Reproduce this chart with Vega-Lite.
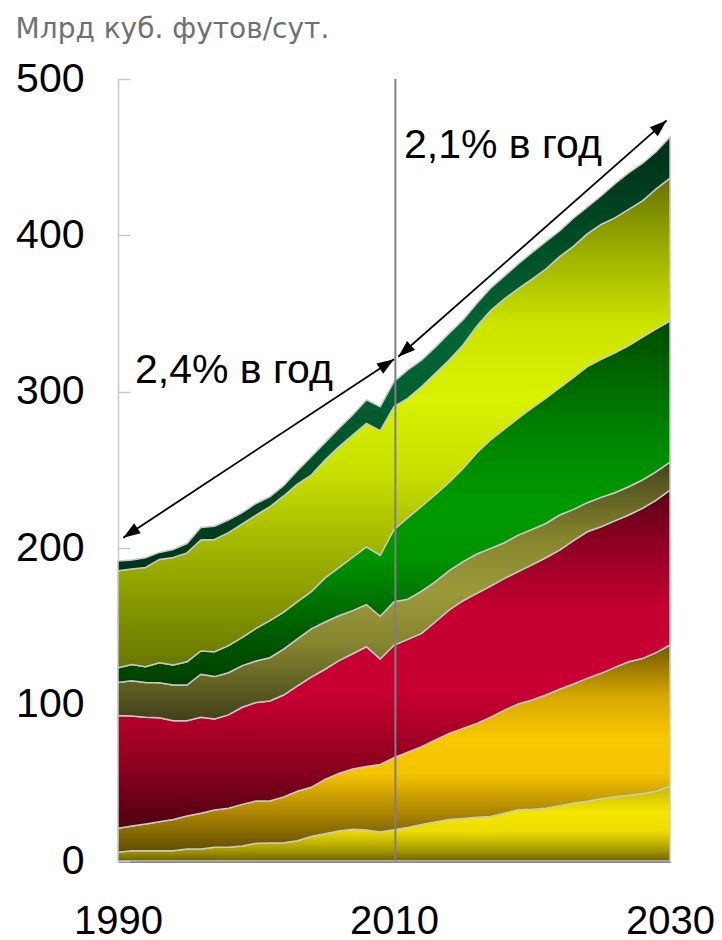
{
  "$schema": "https://vega.github.io/schema/vega-lite/v6.json",
  "width": 552,
  "height": 782,
  "autosize": {"type": "none"},
  "padding": {"left": 118, "top": 79, "right": 52, "bottom": 79},
  "background": "white",
  "config": {
    "view": {"stroke": null},
    "font": "Liberation Sans",
    "axisY": {"domainColor": "#c8c8c8", "domainWidth": 1.5, "tickColor": "#c8c8c8", "tickWidth": 1.5, "tickSize": -12, "labelPadding": 46, "labelFontSize": 41, "labelColor": "#000000", "labelFont": "Liberation Sans", "grid": false, "zindex": 1},
    "axisX": {"domainColor": "#111111", "domainWidth": 2, "ticks": false, "labelPadding": 40, "labelFontSize": 40, "labelColor": "#000000", "labelFont": "Liberation Sans", "grid": false, "labelFlush": false, "zindex": 1}
  },
  "title": {"text": "Млрд куб. футов/сут.", "anchor": "start", "frame": "bounds", "fontSize": 28, "font": "DejaVu Sans", "fontWeight": "normal", "color": "#707070", "baseline": "alphabetic", "offset": 22, "dy": 30},
  "datasets": {
    "gas": [
      {"year":1990,"series":"s1","value":5.6},{"year":1990,"series":"s2","value":15.3},{"year":1990,"series":"s3","value":72.1},{"year":1990,"series":"s4","value":21.2},{"year":1990,"series":"s5","value":9.4},{"year":1990,"series":"s6","value":62},{"year":1990,"series":"s7","value":6.2},
      {"year":1991,"series":"s1","value":6.6},{"year":1991,"series":"s2","value":15.8},{"year":1991,"series":"s3","value":70.3},{"year":1991,"series":"s4","value":22.6},{"year":1991,"series":"s5","value":10.4},{"year":1991,"series":"s6","value":61},{"year":1991,"series":"s7","value":5.8},
      {"year":1992,"series":"s1","value":6.6},{"year":1992,"series":"s2","value":17.1},{"year":1992,"series":"s3","value":68.2},{"year":1992,"series":"s4","value":22.3},{"year":1992,"series":"s5","value":10},{"year":1992,"series":"s6","value":63.5},{"year":1992,"series":"s7","value":6.2},
      {"year":1993,"series":"s1","value":6.6},{"year":1993,"series":"s2","value":18.5},{"year":1993,"series":"s3","value":66.5},{"year":1993,"series":"s4","value":22.4},{"year":1993,"series":"s5","value":12.8},{"year":1993,"series":"s6","value":66},{"year":1993,"series":"s7","value":4.5},
      {"year":1994,"series":"s1","value":6.6},{"year":1994,"series":"s2","value":20},{"year":1994,"series":"s3","value":63.1},{"year":1994,"series":"s4","value":22.8},{"year":1994,"series":"s5","value":12.8},{"year":1994,"series":"s6","value":68.7},{"year":1994,"series":"s7","value":5.2},
      {"year":1995,"series":"s1","value":7.7},{"year":1995,"series":"s2","value":21.1},{"year":1995,"series":"s3","value":60.9},{"year":1995,"series":"s4","value":22.8},{"year":1995,"series":"s5","value":14.9},{"year":1995,"series":"s6","value":69.6},{"year":1995,"series":"s7","value":6},
      {"year":1996,"series":"s1","value":7.7},{"year":1996,"series":"s2","value":22.8},{"year":1996,"series":"s3","value":61.4},{"year":1996,"series":"s4","value":27.5},{"year":1996,"series":"s5","value":14.9},{"year":1996,"series":"s6","value":70.9},{"year":1996,"series":"s7","value":8},
      {"year":1997,"series":"s1","value":8.8},{"year":1997,"series":"s2","value":23.8},{"year":1997,"series":"s3","value":58.2},{"year":1997,"series":"s4","value":27.1},{"year":1997,"series":"s5","value":15.9},{"year":1997,"series":"s6","value":71.8},{"year":1997,"series":"s7","value":8.4},
      {"year":1998,"series":"s1","value":8.8},{"year":1998,"series":"s2","value":24.9},{"year":1998,"series":"s3","value":59.7},{"year":1998,"series":"s4","value":27},{"year":1998,"series":"s5","value":17.3},{"year":1998,"series":"s6","value":72.2},{"year":1998,"series":"s7","value":8.1},
      {"year":1999,"series":"s1","value":9.6},{"year":1999,"series":"s2","value":26.6},{"year":1999,"series":"s3","value":62.1},{"year":1999,"series":"s4","value":26.6},{"year":1999,"series":"s5","value":18.1},{"year":1999,"series":"s6","value":72.5},{"year":1999,"series":"s7","value":7.2},
      {"year":2000,"series":"s1","value":11.3},{"year":2000,"series":"s2","value":27.1},{"year":2000,"series":"s3","value":62.9},{"year":2000,"series":"s4","value":26.6},{"year":2000,"series":"s5","value":20.9},{"year":2000,"series":"s6","value":72.4},{"year":2000,"series":"s7","value":7.4},
      {"year":2001,"series":"s1","value":11.5},{"year":2001,"series":"s2","value":26.9},{"year":2001,"series":"s3","value":63.9},{"year":2001,"series":"s4","value":27.7},{"year":2001,"series":"s5","value":23.7},{"year":2001,"series":"s6","value":72.8},{"year":2001,"series":"s7","value":6.4},
      {"year":2002,"series":"s1","value":11.7},{"year":2002,"series":"s2","value":29.3},{"year":2002,"series":"s3","value":65.1},{"year":2002,"series":"s4","value":29.4},{"year":2002,"series":"s5","value":23.6},{"year":2002,"series":"s6","value":74.3},{"year":2002,"series":"s7","value":6.6},
      {"year":2003,"series":"s1","value":13},{"year":2003,"series":"s2","value":31.6},{"year":2003,"series":"s3","value":67.4},{"year":2003,"series":"s4","value":30},{"year":2003,"series":"s5","value":23.8},{"year":2003,"series":"s6","value":75.2},{"year":2003,"series":"s7","value":8.5},
      {"year":2004,"series":"s1","value":15.7},{"year":2004,"series":"s2","value":31.4},{"year":2004,"series":"s3","value":70.5},{"year":2004,"series":"s4","value":30.8},{"year":2004,"series":"s5","value":23.8},{"year":2004,"series":"s6","value":74.6},{"year":2004,"series":"s7","value":11.7},
      {"year":2005,"series":"s1","value":17.4},{"year":2005,"series":"s2","value":34.8},{"year":2005,"series":"s3","value":70.4},{"year":2005,"series":"s4","value":30.2},{"year":2005,"series":"s5","value":28.2},{"year":2005,"series":"s6","value":75.4},{"year":2005,"series":"s7","value":11.1},
      {"year":2006,"series":"s1","value":19.2},{"year":2006,"series":"s2","value":36.7},{"year":2006,"series":"s3","value":72.2},{"year":2006,"series":"s4","value":28.7},{"year":2006,"series":"s5","value":30.8},{"year":2006,"series":"s6","value":77.2},{"year":2006,"series":"s7","value":11.8},
      {"year":2007,"series":"s1","value":20.3},{"year":2007,"series":"s2","value":38.5},{"year":2007,"series":"s3","value":73.7},{"year":2007,"series":"s4","value":27.6},{"year":2007,"series":"s5","value":34.1},{"year":2007,"series":"s6","value":78.2},{"year":2007,"series":"s7","value":12.8},
      {"year":2008,"series":"s1","value":19.8},{"year":2008,"series":"s2","value":40.6},{"year":2008,"series":"s3","value":76.6},{"year":2008,"series":"s4","value":27},{"year":2008,"series":"s5","value":36.8},{"year":2008,"series":"s6","value":79},{"year":2008,"series":"s7","value":15},
      {"year":2009,"series":"s1","value":18.5},{"year":2009,"series":"s2","value":43.2},{"year":2009,"series":"s3","value":67.5},{"year":2009,"series":"s4","value":27.3},{"year":2009,"series":"s5","value":39},{"year":2009,"series":"s6","value":79.7},{"year":2009,"series":"s7","value":15.3},
      {"year":2010,"series":"s1","value":20},{"year":2010,"series":"s2","value":46},{"year":2010,"series":"s3","value":72.1},{"year":2010,"series":"s4","value":27.7},{"year":2010,"series":"s5","value":46.2},{"year":2010,"series":"s6","value":78.5},{"year":2010,"series":"s7","value":16},
      {"year":2011,"series":"s1","value":21.4},{"year":2011,"series":"s2","value":48.1},{"year":2011,"series":"s3","value":72.2},{"year":2011,"series":"s4","value":25.7},{"year":2011,"series":"s5","value":52.1},{"year":2011,"series":"s6","value":76.3},{"year":2011,"series":"s7","value":18.2},
      {"year":2012,"series":"s1","value":23.3},{"year":2012,"series":"s2","value":49.8},{"year":2012,"series":"s3","value":72.4},{"year":2012,"series":"s4","value":27.1},{"year":2012,"series":"s5","value":54.2},{"year":2012,"series":"s6","value":76.5},{"year":2012,"series":"s7","value":17},
      {"year":2013,"series":"s1","value":25},{"year":2013,"series":"s2","value":52.4},{"year":2013,"series":"s3","value":75.6},{"year":2013,"series":"s4","value":25.6},{"year":2013,"series":"s5","value":55.7},{"year":2013,"series":"s6","value":77.5},{"year":2013,"series":"s7","value":16.7},
      {"year":2014,"series":"s1","value":26.5},{"year":2014,"series":"s2","value":55.1},{"year":2014,"series":"s3","value":78.9},{"year":2014,"series":"s4","value":25.1},{"year":2014,"series":"s5","value":56.6},{"year":2014,"series":"s6","value":78.1},{"year":2014,"series":"s7","value":17.1},
      {"year":2015,"series":"s1","value":27.2},{"year":2015,"series":"s2","value":57.6},{"year":2015,"series":"s3","value":81.6},{"year":2015,"series":"s4","value":25},{"year":2015,"series":"s5","value":59.6},{"year":2015,"series":"s6","value":78.9},{"year":2015,"series":"s7","value":16},
      {"year":2016,"series":"s1","value":28},{"year":2016,"series":"s2","value":60},{"year":2016,"series":"s3","value":83.1},{"year":2016,"series":"s4","value":25.2},{"year":2016,"series":"s5","value":64.7},{"year":2016,"series":"s6","value":81},{"year":2016,"series":"s7","value":14.5},
      {"year":2017,"series":"s1","value":28.5},{"year":2017,"series":"s2","value":63.4},{"year":2017,"series":"s3","value":83.9},{"year":2017,"series":"s4","value":24.1},{"year":2017,"series":"s5","value":69.4},{"year":2017,"series":"s6","value":82.7},{"year":2017,"series":"s7","value":14.2},
      {"year":2018,"series":"s1","value":30.6},{"year":2018,"series":"s2","value":65.9},{"year":2018,"series":"s3","value":84.2},{"year":2018,"series":"s4","value":22.8},{"year":2018,"series":"s5","value":72.7},{"year":2018,"series":"s6","value":83.3},{"year":2018,"series":"s7","value":14.5},
      {"year":2019,"series":"s1","value":32.8},{"year":2019,"series":"s2","value":67.6},{"year":2019,"series":"s3","value":84.6},{"year":2019,"series":"s4","value":23.4},{"year":2019,"series":"s5","value":74.7},{"year":2019,"series":"s6","value":82.9},{"year":2019,"series":"s7","value":15.7},
      {"year":2020,"series":"s1","value":33.1},{"year":2020,"series":"s2","value":69.8},{"year":2020,"series":"s3","value":86.4},{"year":2020,"series":"s4","value":22.7},{"year":2020,"series":"s5","value":77.7},{"year":2020,"series":"s6","value":82.3},{"year":2020,"series":"s7","value":17},
      {"year":2021,"series":"s1","value":33.8},{"year":2021,"series":"s2","value":72.3},{"year":2021,"series":"s3","value":87.8},{"year":2021,"series":"s4","value":21.9},{"year":2021,"series":"s5","value":80.2},{"year":2021,"series":"s6","value":82.5},{"year":2021,"series":"s7","value":17.5},
      {"year":2022,"series":"s1","value":35.4},{"year":2022,"series":"s2","value":74.4},{"year":2022,"series":"s3","value":89},{"year":2022,"series":"s4","value":22.4},{"year":2022,"series":"s5","value":81.4},{"year":2022,"series":"s6","value":83.8},{"year":2022,"series":"s7","value":16.4},
      {"year":2023,"series":"s1","value":37},{"year":2023,"series":"s2","value":76.2},{"year":2023,"series":"s3","value":91.6},{"year":2023,"series":"s4","value":20},{"year":2023,"series":"s5","value":84.4},{"year":2023,"series":"s6","value":83.8},{"year":2023,"series":"s7","value":18},
      {"year":2024,"series":"s1","value":38.2},{"year":2024,"series":"s2","value":78.6},{"year":2024,"series":"s3","value":93.7},{"year":2024,"series":"s4","value":18.6},{"year":2024,"series":"s5","value":87},{"year":2024,"series":"s6","value":84.9},{"year":2024,"series":"s7","value":17},
      {"year":2025,"series":"s1","value":39.8},{"year":2025,"series":"s2","value":80.2},{"year":2025,"series":"s3","value":93.7},{"year":2025,"series":"s4","value":18.8},{"year":2025,"series":"s5","value":88.3},{"year":2025,"series":"s6","value":86.2},{"year":2025,"series":"s7","value":18.2},
      {"year":2026,"series":"s1","value":41.1},{"year":2026,"series":"s2","value":82.7},{"year":2026,"series":"s3","value":93.7},{"year":2026,"series":"s4","value":18},{"year":2026,"series":"s5","value":89.4},{"year":2026,"series":"s6","value":86.3},{"year":2026,"series":"s7","value":21.7},
      {"year":2027,"series":"s1","value":42},{"year":2027,"series":"s2","value":85.4},{"year":2027,"series":"s3","value":93.8},{"year":2027,"series":"s4","value":18.1},{"year":2027,"series":"s5","value":90.3},{"year":2027,"series":"s6","value":87},{"year":2027,"series":"s7","value":23.4},
      {"year":2028,"series":"s1","value":43},{"year":2028,"series":"s2","value":86.5},{"year":2028,"series":"s3","value":96},{"year":2028,"series":"s4","value":18.1},{"year":2028,"series":"s5","value":91.4},{"year":2028,"series":"s6","value":87.1},{"year":2028,"series":"s7","value":23.9},
      {"year":2029,"series":"s1","value":44.6},{"year":2029,"series":"s2","value":88.6},{"year":2029,"series":"s3","value":97.6},{"year":2029,"series":"s4","value":18.2},{"year":2029,"series":"s5","value":91.2},{"year":2029,"series":"s6","value":89.6},{"year":2029,"series":"s7","value":23.7},
      {"year":2030,"series":"s1","value":47.8},{"year":2030,"series":"s2","value":90.3},{"year":2030,"series":"s3","value":99.1},{"year":2030,"series":"s4","value":17.8},{"year":2030,"series":"s5","value":90.3},{"year":2030,"series":"s6","value":91.3},{"year":2030,"series":"s7","value":26.4}
    ],
    "divider": [{"year": 2010.1}],
    "arrows": [
      {"id": "a", "xs": 1990.38, "ys": 206.7, "xe": 2010.0, "ye": 320.8},
      {"id": "b", "xs": 2010.31, "ys": 322.4, "xe": 2029.75, "ye": 473.5}
    ],
    "labels": [
      {"x": 1991.23, "y": 305.6, "text": "2,4% в год"},
      {"x": 2010.72, "y": 449.8, "text": "2,1% в год"}
    ]
  },
  "layer": [
    {
      "data": {"name": "gas"},
      "transform": [{"stack": "value", "groupby": ["year"], "sort": [{"field": "series", "order": "ascending"}], "as": ["y0", "y1"]}, {"filter": "datum.series === 's1'"}],
      "mark": {"type": "area", "opacity": 1, "stroke": "#c8c8c8", "strokeWidth": 1.5, "fill": {"gradient": "linear", "x1": 0, "y1": 0, "x2": 0, "y2": 1, "stops": [{"offset": 0, "color": "#c8b800"}, {"offset": 0.35, "color": "#f5e600"}, {"offset": 0.6, "color": "#eedd00"}, {"offset": 0.85, "color": "#a89c00"}, {"offset": 1, "color": "#6e6200"}]}},
      "encoding": {
        "x": {"field": "year", "type": "quantitative", "title": null, "scale": {"domain": [1990, 2030], "nice": false, "zero": false}, "axis": {"values": [1990, 2010, 2030], "format": "d"}},
        "y": {"field": "y1", "type": "quantitative", "title": null, "scale": {"domain": [0, 500], "nice": false}, "axis": {"values": [0, 100, 200, 300, 400, 500]}},
        "y2": {"field": "y0"}
      }
    },
    {
      "data": {"name": "gas"},
      "transform": [{"stack": "value", "groupby": ["year"], "sort": [{"field": "series", "order": "ascending"}], "as": ["y0", "y1"]}, {"filter": "datum.series === 's2'"}],
      "mark": {"type": "area", "opacity": 1, "stroke": "#c8c8c8", "strokeWidth": 1.5, "fill": {"gradient": "linear", "x1": 0, "y1": 0, "x2": 0, "y2": 1, "stops": [{"offset": 0, "color": "#705800"}, {"offset": 0.25, "color": "#d8a800"}, {"offset": 0.45, "color": "#f8c800"}, {"offset": 0.62, "color": "#f5c400"}, {"offset": 0.8, "color": "#b08800"}, {"offset": 1, "color": "#604c00"}]}},
      "encoding": {"x": {"field": "year", "type": "quantitative", "title": null}, "y": {"field": "y1", "type": "quantitative", "title": null}, "y2": {"field": "y0"}}
    },
    {
      "data": {"name": "gas"},
      "transform": [{"stack": "value", "groupby": ["year"], "sort": [{"field": "series", "order": "ascending"}], "as": ["y0", "y1"]}, {"filter": "datum.series === 's3'"}],
      "mark": {"type": "area", "opacity": 1, "stroke": "#c8c8c8", "strokeWidth": 1.5, "fill": {"gradient": "linear", "x1": 0, "y1": 0, "x2": 0, "y2": 1, "stops": [{"offset": 0, "color": "#5a0016"}, {"offset": 0.15, "color": "#8c0022"}, {"offset": 0.35, "color": "#c40030"}, {"offset": 0.6, "color": "#c80032"}, {"offset": 0.8, "color": "#90001f"}, {"offset": 1, "color": "#4e0012"}]}},
      "encoding": {"x": {"field": "year", "type": "quantitative", "title": null}, "y": {"field": "y1", "type": "quantitative", "title": null}, "y2": {"field": "y0"}}
    },
    {
      "data": {"name": "gas"},
      "transform": [{"stack": "value", "groupby": ["year"], "sort": [{"field": "series", "order": "ascending"}], "as": ["y0", "y1"]}, {"filter": "datum.series === 's4'"}],
      "mark": {"type": "area", "opacity": 1, "stroke": "#c8c8c8", "strokeWidth": 1.5, "fill": {"gradient": "linear", "x1": 0, "y1": 0, "x2": 0, "y2": 1, "stops": [{"offset": 0, "color": "#45451a"}, {"offset": 0.3, "color": "#86862e"}, {"offset": 0.5, "color": "#9c9a3a"}, {"offset": 0.7, "color": "#868530"}, {"offset": 1, "color": "#404018"}]}},
      "encoding": {"x": {"field": "year", "type": "quantitative", "title": null}, "y": {"field": "y1", "type": "quantitative", "title": null}, "y2": {"field": "y0"}}
    },
    {
      "data": {"name": "gas"},
      "transform": [{"stack": "value", "groupby": ["year"], "sort": [{"field": "series", "order": "ascending"}], "as": ["y0", "y1"]}, {"filter": "datum.series === 's5'"}],
      "mark": {"type": "area", "opacity": 1, "stroke": "#c8c8c8", "strokeWidth": 1.5, "fill": {"gradient": "linear", "x1": 0, "y1": 0, "x2": 0, "y2": 1, "stops": [{"offset": 0, "color": "#004a00"}, {"offset": 0.3, "color": "#008200"}, {"offset": 0.5, "color": "#009a00"}, {"offset": 0.65, "color": "#009400"}, {"offset": 0.85, "color": "#005c00"}, {"offset": 1, "color": "#003e00"}]}},
      "encoding": {"x": {"field": "year", "type": "quantitative", "title": null}, "y": {"field": "y1", "type": "quantitative", "title": null}, "y2": {"field": "y0"}}
    },
    {
      "data": {"name": "gas"},
      "transform": [{"stack": "value", "groupby": ["year"], "sort": [{"field": "series", "order": "ascending"}], "as": ["y0", "y1"]}, {"filter": "datum.series === 's6'"}],
      "mark": {"type": "area", "opacity": 1, "stroke": "#c8c8c8", "strokeWidth": 1.5, "fill": {"gradient": "linear", "x1": 0, "y1": 0, "x2": 0, "y2": 1, "stops": [{"offset": 0, "color": "#667400"}, {"offset": 0.15, "color": "#9cb000"}, {"offset": 0.3, "color": "#cce400"}, {"offset": 0.45, "color": "#d8f200"}, {"offset": 0.6, "color": "#c8e000"}, {"offset": 0.8, "color": "#96aa00"}, {"offset": 1, "color": "#687600"}]}},
      "encoding": {"x": {"field": "year", "type": "quantitative", "title": null}, "y": {"field": "y1", "type": "quantitative", "title": null}, "y2": {"field": "y0"}}
    },
    {
      "data": {"name": "gas"},
      "transform": [{"stack": "value", "groupby": ["year"], "sort": [{"field": "series", "order": "ascending"}], "as": ["y0", "y1"]}, {"filter": "datum.series === 's7'"}],
      "mark": {"type": "area", "opacity": 1, "stroke": "#c8c8c8", "strokeWidth": 1.5, "fill": {"gradient": "linear", "x1": 0, "y1": 0, "x2": 0, "y2": 1, "stops": [{"offset": 0, "color": "#002e16"}, {"offset": 0.45, "color": "#006633"}, {"offset": 0.6, "color": "#006030"}, {"offset": 1, "color": "#00341a"}]}},
      "encoding": {"x": {"field": "year", "type": "quantitative", "title": null}, "y": {"field": "y1", "type": "quantitative", "title": null}, "y2": {"field": "y0"}}
    },
    {
      "data": {"name": "divider"},
      "mark": {"type": "rule", "color": "#808080", "strokeWidth": 2},
      "encoding": {"x": {"field": "year", "type": "quantitative", "title": null}}
    },
    {
      "data": {"name": "arrows"},
      "mark": {"type": "rule", "color": "#000000", "strokeWidth": 1.8},
      "encoding": {"x": {"field": "xs", "type": "quantitative", "title": null}, "y": {"field": "ys", "type": "quantitative", "title": null}, "x2": {"field": "xe"}, "y2": {"field": "ye"}}
    },
    {
      "data": {"name": "arrows"},
      "transform": [{"filter": "datum.id === 'a'"}],
      "mark": {"type": "point", "shape": "M0,0L1.2,3.4L-1.2,3.4Z", "filled": true, "color": "#000000", "opacity": 1, "size": 100, "angle": 56.6, "strokeWidth": 0},
      "encoding": {"x": {"field": "xe", "type": "quantitative", "title": null}, "y": {"field": "ye", "type": "quantitative", "title": null}}
    },
    {
      "data": {"name": "arrows"},
      "transform": [{"filter": "datum.id === 'a'"}],
      "mark": {"type": "point", "shape": "M0,0L1.2,3.4L-1.2,3.4Z", "filled": true, "color": "#000000", "opacity": 1, "size": 100, "angle": 236.6, "strokeWidth": 0},
      "encoding": {"x": {"field": "xs", "type": "quantitative", "title": null}, "y": {"field": "ys", "type": "quantitative", "title": null}}
    },
    {
      "data": {"name": "arrows"},
      "transform": [{"filter": "datum.id === 'b'"}],
      "mark": {"type": "point", "shape": "M0,0L1.2,3.4L-1.2,3.4Z", "filled": true, "color": "#000000", "opacity": 1, "size": 100, "angle": 48.7, "strokeWidth": 0},
      "encoding": {"x": {"field": "xe", "type": "quantitative", "title": null}, "y": {"field": "ye", "type": "quantitative", "title": null}}
    },
    {
      "data": {"name": "arrows"},
      "transform": [{"filter": "datum.id === 'b'"}],
      "mark": {"type": "point", "shape": "M0,0L1.2,3.4L-1.2,3.4Z", "filled": true, "color": "#000000", "opacity": 1, "size": 100, "angle": 228.7, "strokeWidth": 0},
      "encoding": {"x": {"field": "xs", "type": "quantitative", "title": null}, "y": {"field": "ys", "type": "quantitative", "title": null}}
    },
    {
      "data": {"name": "labels"},
      "mark": {"type": "text", "align": "left", "baseline": "alphabetic", "fontSize": 41, "font": "Liberation Sans", "color": "#000000"},
      "encoding": {"x": {"field": "x", "type": "quantitative", "title": null}, "y": {"field": "y", "type": "quantitative", "title": null}, "text": {"field": "text"}}
    }
  ]
}
